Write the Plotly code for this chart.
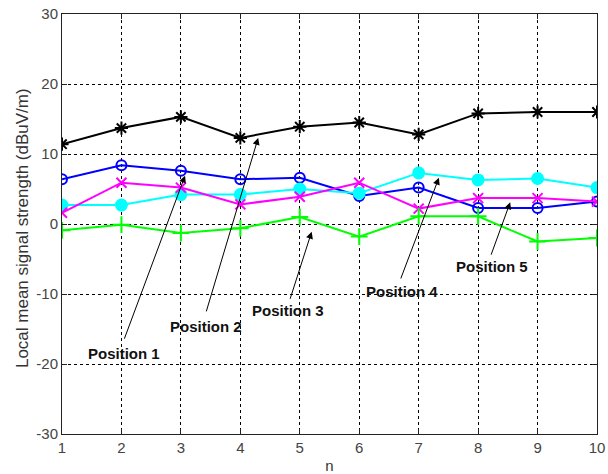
import plotly.graph_objects as go

# Sample index
n = [1, 2, 3, 4, 5, 6, 7, 8, 9, 10]

# Local mean signal strength (dBuV/m) at each position
position_1 = [11.4, 13.7, 15.3, 12.3, 13.9, 14.5, 12.8, 15.8, 16.0, 16.0]
position_2 = [6.4, 8.4, 7.6, 6.4, 6.6, 4.0, 5.2, 2.3, 2.3, 3.2]
position_3 = [2.7, 2.7, 4.2, 4.2, 5.0, 4.4, 7.3, 6.3, 6.5, 5.2]
position_4 = [1.6, 5.9, 5.2, 2.8, 3.9, 5.9, 2.2, 3.7, 3.7, 3.2]
position_5 = [-0.9, -0.1, -1.3, -0.6, 1.0, -1.8, 1.1, 1.1, -2.5, -2.0]

x_ticks = list(range(1, 11))
y_ticks = [-30, -20, -10, 0, 10, 20, 30]
y_tick_labels = ["-30", "-20", "-10", "0", "10", "20", "30"]

FONT = "Liberation Sans, Arial"

series = [
    (position_1, "#000000", "asterisk-open", 11),
    (position_2, "#0000ff", "circle-open", 10),
    (position_3, "#00ffff", "circle", 11),
    (position_4, "#ff00ff", "x-thin-open", 10),
    (position_5, "#00ff00", "cross-thin-open", 12),
]

fig = go.Figure()
for values, color, symbol, size in series:
    fig.add_trace(go.Scatter(
        x=n, y=values, mode="lines+markers",
        line=dict(color=color, width=2),
        marker=dict(symbol=symbol, size=size, color=color,
                    line=dict(color=color, width=2)),
        showlegend=False,
    ))

# Callout labels: (text, label x, label y, arrow tail x, tail y, tip x, tip y)
callouts = [
    ("Position 1", 2.05, -18.5, 2.04, -16.6, 3.07, 6.9),
    ("Position 2", 3.43, -14.6, 3.42, -12.7, 4.30, 12.3),
    ("Position 3", 4.80, -12.3, 4.83, -10.9, 5.20, -1.1),
    ("Position 4", 6.72, -9.7, 6.69, -8.0, 7.34, 6.6),
    ("Position 5", 8.24, -6.1, 8.21, -4.6, 8.54, 3.1),
]
annotations = []
for label, lx, ly, tx, ty, hx, hy in callouts:
    annotations.append(dict(
        x=hx, y=hy, ax=tx, ay=ty, xref="x", yref="y", axref="x", ayref="y",
        text="", showarrow=True, arrowhead=2, arrowsize=1.4, arrowwidth=1,
        arrowcolor="#000000", standoff=0, startstandoff=0,
    ))
    annotations.append(dict(
        x=lx, y=ly, xref="x", yref="y", text="<b>" + label + "</b>",
        showarrow=False, font=dict(family=FONT, size=15, color="#111111"),
    ))

# Vertical axis title, placed left of the tick labels
annotations.append(dict(
    x=-0.075, y=0.49, xref="paper", yref="paper", xanchor="center", yanchor="middle",
    text="Local mean signal strength (dBuV/m)", textangle=-90, showarrow=False,
    font=dict(family=FONT, size=17, color="#333333"),
))

axis_common = dict(
    showgrid=True, gridcolor="#000000", griddash="3px,3px", gridwidth=1,
    showline=True, linecolor="#222222", linewidth=1, mirror="ticks",
    ticks="inside", ticklen=5, tickcolor="#222222",
    zeroline=False, automargin=False,
    tickfont=dict(family=FONT, size=15, color="#444444"),
)

fig.update_layout(
    width=608, height=474,
    margin=dict(l=62, r=11, t=14, b=40),
    paper_bgcolor="#ffffff", plot_bgcolor="#ffffff",
    xaxis=dict(range=[1, 10], tickvals=x_ticks, **axis_common,
               title=dict(text="n", standoff=10,
                          font=dict(family=FONT, size=15, color="#333333"))),
    yaxis=dict(range=[-30, 30], tickvals=y_ticks, ticktext=y_tick_labels, **axis_common),
    annotations=annotations,
)

fig.write_html("out.html")
